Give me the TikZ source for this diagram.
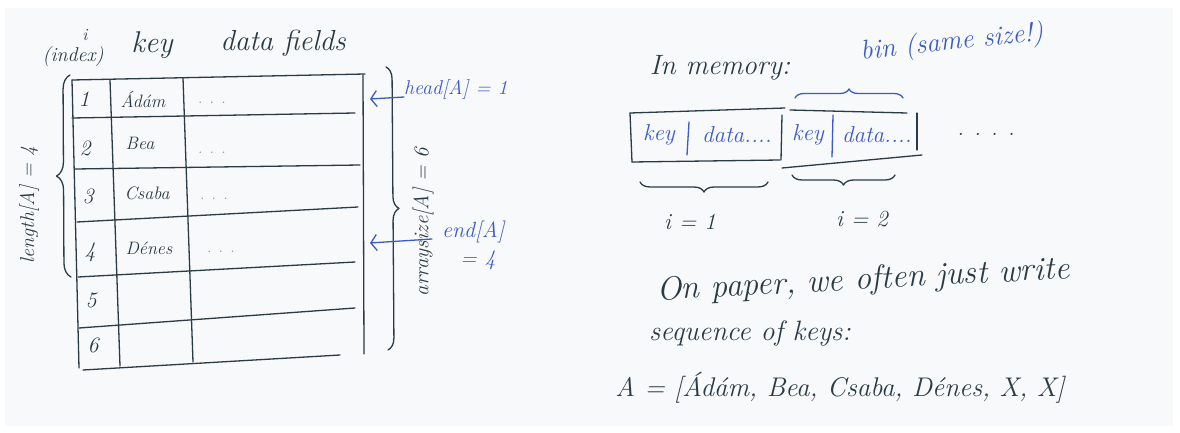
\documentclass[tikz,border=0pt]{standalone}
\usetikzlibrary{arrows.meta,decorations.pathreplacing}
\definecolor{ink}{HTML}{2A3B45}
\definecolor{blueink}{HTML}{3A5BC7}
\definecolor{paper}{HTML}{F8F9FA}

\begin{document}
\begin{tikzpicture}[x=1pt,y=-1pt,
  pen/.style={draw=ink,line width=1.3pt,line cap=round,line join=round},
  bluepen/.style={draw=blueink,line width=1.3pt,line cap=round,line join=round},
  lbl/.style={text=ink,inner sep=0pt,font=\fontsize{#1}{#1}\selectfont\itshape},
  blbl/.style={text=blueink,inner sep=0pt,font=\fontsize{#1}{#1}\selectfont\itshape},
  dotlbl/.style={text=ink!55,inner sep=0pt,font=\fontsize{18}{18}\selectfont},
  inkbrace/.style={pen,decorate,decoration={brace,amplitude=#1}},
  bluebrace/.style={bluepen,decorate,decoration={brace,amplitude=#1}},
  pointer/.style={bluepen,-{Straight Barb[length=6pt,width=16pt,line width=1.3pt]}}
]
% page and paper
\fill[white] (0,0) rectangle (1180,433);
\fill[paper] (5,8) rectangle (1173,426);
\useasboundingbox (0,0) rectangle (1180,433);

% ---------------- the table ----------------
\draw[pen] (72,80) -- (365,74);
\draw[pen] (72,80) -- (79,368);
\draw[pen] (110,80) -- (120,366);
\draw[pen] (183,78) -- (193,362);
\draw[pen] (363,75) -- (364,354);
\draw[pen] (72,118) -- (355,113);
\draw[pen] (75,169) -- (360,165);
\draw[pen] (77,222) -- (358,207);
\draw[pen] (78,277) -- (355,262);
\draw[pen] (79,328) -- (355,308);
\draw[pen] (83,370) -- (340,355);

% column headers
\node[lbl=17] (hi) at (85,35) {i};
\node[lbl=20] (hindex) at (73,57) {(index)};
\node[lbl=30] (hkey) at (152,45) {key};
\node[lbl=29] (hdata) at (283,43) {data fields};

% rows
\node[lbl=22] (n1) at (84,99) {1};
\node[lbl=22] (n2) at (85,148) {2};
\node[lbl=22] (n3) at (88,196) {3};
\node[lbl=22] (n4) at (90,252) {4};
\node[lbl=22] (n5) at (91,300) {5};
\node[lbl=22] (n6) at (93,345) {6};
\node[lbl=18] (k1) at (143,99) {Ádám};
\node[lbl=18] (k2) at (140,143) {Bea};
\node[lbl=18] (k3) at (147,193) {Csaba};
\node[lbl=18] (k4) at (149,248) {Dénes};
\node[dotlbl] (d1) at (212,103) {. . .};
\node[dotlbl] (d2) at (212,153) {. . .};
\node[dotlbl] (d3) at (214,199) {. . .};
\node[dotlbl] (d4) at (221,252) {. . .};

% length brace on the left
\draw[inkbrace=14] (71,277) -- (70,75);
\node[lbl=20,rotate=90] (len) at (29,205) {length[A] = 4};

% array size brace on the right
\draw[inkbrace=12] (386,67) -- (388,350);
\node[lbl=21,rotate=90] (asz) at (423,222) {arraysize[A] = 6};

% head and end pointers
\coordinate (headtip) at (370,99);
\coordinate (endtip) at (370,243);
\node[blbl=20,anchor=west] (head) at (404,90) {head[A] = 1};
\node[blbl=22,anchor=west] (endl) at (442,232) {end[A]};
\node[blbl=22] (endv) at (478,260) {= 4};
\draw[pointer] (head.west |- 0,97) -- (headtip);
\draw[pointer] (432,239) -- (endtip);

% ---------------- memory layout ----------------
\node[lbl=28] (mem) at (720,68) {In memory:};
\node[blbl=27,rotate=6] (bin) at (952,43) {bin (same size!)};

% first bin
\draw[pen] (630,113) -- (785,108);
\draw[pen] (630,113) -- (632,162);
\draw[pen] (632,162) -- (780,160);
\draw[pen] (782,115) -- (781,160);
% second bin
\draw[pen] (790,110) -- (907,113);
\draw[pen] (917,113) -- (917,150);
\draw[pen] (782,168) -- (922,155);

\node[blbl=23] (bk1) at (659,135) {key};
\draw[bluepen] (689,122) -- (687,155);
\node[blbl=23] (bd1) at (737,135) {data....};
\node[blbl=23] (bk2) at (808,135) {key};
\draw[bluepen] (833,115) -- (832,157);
\node[blbl=23] (bd2) at (877,135) {data....};
\node[lbl=22] (more) at (986,134) {. . . .};

% braces over and under the bins
\draw[bluebrace=9] (795,98) -- (903,98);
\draw[inkbrace=10] (768,182) -- (640,182);
\draw[inkbrace=10] (895,175) -- (792,175);
\node[lbl=23] (i1) at (690,222) {i = 1};
\node[lbl=23] (i2) at (862,219) {i = 2};

% ---------------- written as a list ----------------
\node[lbl=33,rotate=3] (para1) at (863,281) {On paper, we often just write};
\node[lbl=28] (para2) at (750,333) {sequence of keys:};
\node[lbl=27] (seq) at (840,388) {A = [Ádám, Bea, Csaba, Dénes, X, X]};
\end{tikzpicture}
\end{document}
